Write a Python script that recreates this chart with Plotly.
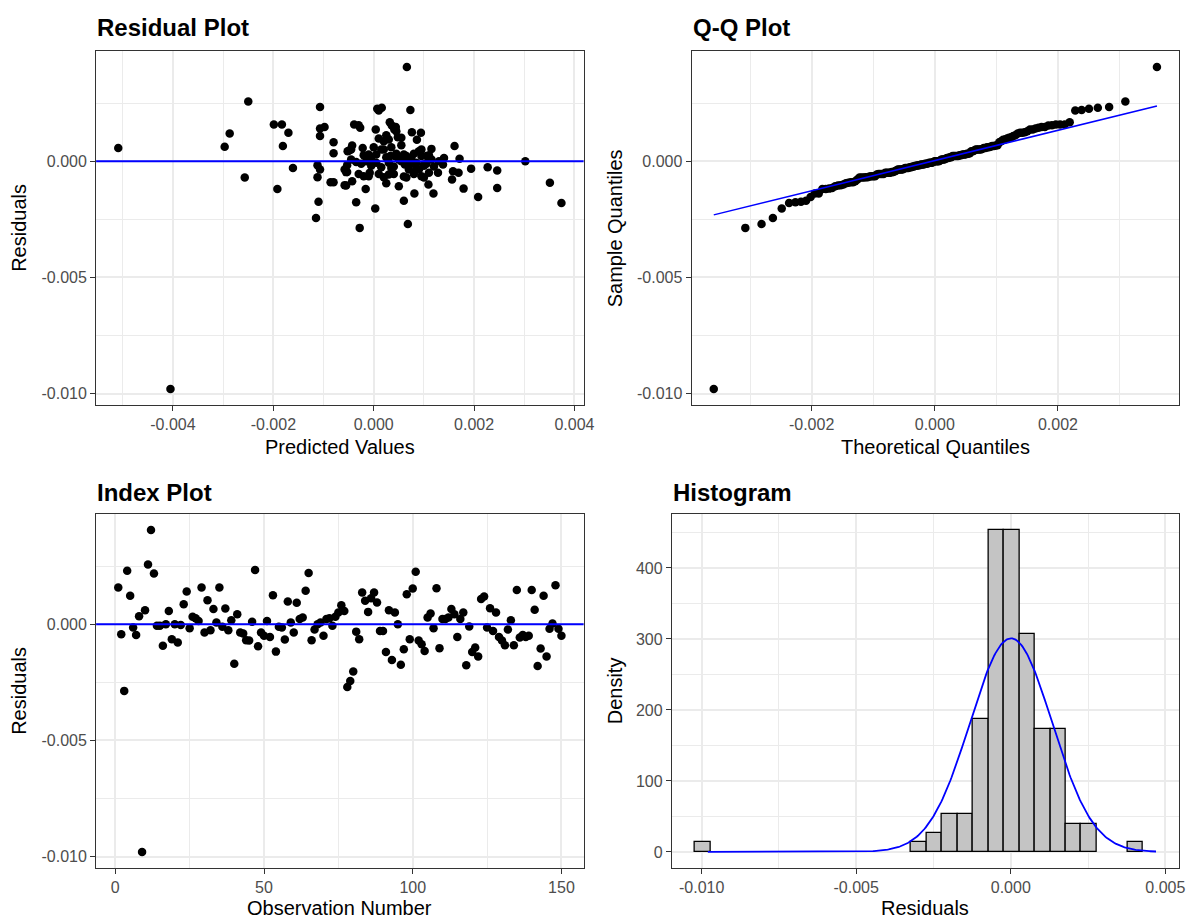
import numpy as np
import plotly.graph_objects as go
from statistics import NormalDist

# ---------------- data ----------------
residuals = [
    0.00158, -0.00043, -0.00287, 0.00230, 0.00122, -0.00014, -0.00046, 0.00034, -0.00980, 0.00060,
    0.00257, 0.00405, 0.00218, -0.00007, -0.00007, -0.00093, 0.00000, 0.00057, -0.00065, 0.00000,
    -0.00079, -0.00003, 0.00086, 0.00141, -0.00017, 0.00032, 0.00026, 0.00014, 0.00158, -0.00036,
    0.00103, -0.00026, 0.00065, 0.00007, 0.00158, -0.00011, 0.00068, -0.00026, 0.00017, -0.00170,
    0.00043, -0.00036, -0.00040, -0.00069, -0.00070, 0.00011, 0.00233, -0.00095, -0.00036, -0.00050,
    0.00014, -0.00055, 0.00125, -0.00118, -0.00011, -0.00014, -0.00066, 0.00098, 0.00007, -0.00036,
    0.00092, 0.00022, 0.00029, 0.00144, 0.00220, -0.00069, -0.00023, 0.00000, 0.00007, -0.00050,
    0.00022, 0.00026, -0.00007, 0.00032, 0.00050, 0.00082, 0.00057, -0.00270, -0.00244, -0.00204,
    -0.00032, -0.00065, 0.00136, 0.00101, 0.00053, 0.00112, 0.00136, 0.00093, -0.00029, -0.00029,
    -0.00120, 0.00060, -0.00154, 0.00050, 0.00000, -0.00175, -0.00108, 0.00129, -0.00065, 0.00154,
    0.00226, -0.00070, -0.00086, -0.00115, 0.00029, 0.00046, -0.00017, 0.00155, -0.00103, 0.00022,
    0.00022, 0.00029, 0.00065, 0.00043, -0.00055, 0.00022, 0.00050, -0.00177, -0.00010, -0.00120,
    -0.00100, -0.00139, 0.00108, 0.00119, -0.00014, 0.00069, -0.00029, 0.00050, -0.00055, -0.00070,
    -0.00091, -0.00023, 0.00017, -0.00091, 0.00147, -0.00057, -0.00047, -0.00055, -0.00050, 0.00147,
    0.00062, -0.00180, -0.00105, 0.00122, -0.00139, -0.00020, 0.00003, 0.00168, -0.00020, -0.00050,
]

predicted = [
    -0.00199, 0.00158, -0.00028, 0.00016, -0.00170, 0.00062, -0.00053, -0.00080, -0.00405, 0.00035,
    -0.00250, 0.00066, 0.00010, 0.00030, 0.00085, 0.00351, 0.00302, -0.00509, -0.00010, 0.00055,
    0.00156, -0.00035, 0.00020, -0.00107, -0.00112, 0.00045, -0.00020, 0.00140, -0.00183, 0.00090,
    0.00048, 0.00227, 0.00161, 0.00115, -0.00039, 0.00105, -0.00043, 0.00015, -0.00005, 0.00060,
    -0.00052, -0.00107, 0.00246, -0.00112, -0.00257, 0.00171, -0.00107, 0.00025, 0.00070, 0.00169,
    0.00075, 0.00040, 0.00076, 0.00179, -0.00025, 0.00100, 0.00060, 0.00010, -0.00045, -0.00058,
    0.00086, 0.00095, 0.00005, -0.00027, 0.00073, 0.00020, 0.00120, -0.00015, 0.00050, 0.00128,
    0.00065, 0.00110, 0.00005, 0.00080, -0.00045, -0.00080, -0.00022, 0.00068, -0.00115, 0.00003,
    0.00194, 0.00095, 0.00004, 0.00055, 0.00115, 0.00025, 0.00041, 0.00030, -0.00161, 0.00035,
    -0.00192, 0.00000, 0.00208, 0.00015, 0.00130, -0.00110, 0.00050, 0.00045, -0.00020, 0.00036,
    0.00007, 0.00100, -0.00043, 0.00246, 0.00060, -0.00049, -0.00053, -0.00030, -0.00058, 0.00033,
    0.00105, -0.00010, -0.00181, 0.00090, 0.00010, 0.00042, 0.00020, -0.00035, 0.00075, -0.00016,
    0.00109, 0.00081, -0.00107, -0.00287, 0.00138, 0.00055, 0.00085, 0.00095, -0.00030, 0.00065,
    -0.00086, 0.00040, 0.00025, -0.00080, -0.00098, 0.00030, -0.00055, 0.00080, 0.00110, 0.00044,
    -0.00297, 0.00374, -0.00055, 0.00094, 0.00119, -0.00005, 0.00070, 0.00032, 0.00100, -0.00008,
]

observation = list(range(1, len(residuals) + 1))

# tick values / labels
resid_yticks = [-0.010, -0.005, 0.000]
resid_yminor = [-0.0075, -0.0025, 0.0025]
pred_xticks = [-0.004, -0.002, 0.000, 0.002, 0.004]
pred_xminor = [-0.005, -0.003, -0.001, 0.001, 0.003]
qq_xticks = [-0.002, 0.000, 0.002]
qq_xminor = [-0.003, -0.001, 0.001, 0.003]
obs_xticks = [0, 50, 100, 150]
obs_xminor = [25, 75, 125]
hist_xticks = [-0.010, -0.005, 0.000, 0.005]
hist_xminor = [-0.0075, -0.0025, 0.0025]
hist_yticks = [0, 100, 200, 300, 400]
hist_yminor = [50, 150, 250, 350, 450]

# histogram binning and density-curve extent
BIN_START, BIN_END, BIN_WIDTH = -0.01022, 0.00428, 0.0005
CURVE_END = 0.0047

# ---------------- derived statistics ----------------
res = np.array(residuals)
pred = np.array(predicted)
n = len(res)
mu = res.mean()
sd = res.std(ddof=1)
nd = NormalDist(mu, sd)
sample_q = np.sort(res)
theo_q = np.array([nd.inv_cdf((i - 0.5) / n) for i in range(1, n + 1)])
q1, q3 = np.quantile(res, [0.25, 0.75])
t1, t3 = nd.inv_cdf(0.25), nd.inv_cdf(0.75)
slope = (q3 - q1) / (t3 - t1)
intercept = q1 - slope * t1
qq_line_x = np.array([theo_q.min(), theo_q.max()])
qq_line_y = intercept + slope * qq_line_x

curve_x = np.linspace(res.min(), CURVE_END, 400)
curve_y = np.exp(-((curve_x - mu) ** 2) / (2 * sd ** 2)) / (sd * np.sqrt(2 * np.pi))

edges = np.arange(BIN_START, BIN_END + BIN_WIDTH / 2, BIN_WIDTH)
counts, _ = np.histogram(res, bins=edges)
dens_max = counts.max() / (n * BIN_WIDTH)


def expand(lo, hi, f=0.05):
    d = (hi - lo) * f
    return [lo - d, hi + d]


# ---------------- style ----------------
FONT = "Liberation Sans, Arial, Helvetica, sans-serif"
W, H = 1200, 918
GRID = "#EBEBEB"
BORDER = "#333333"
TICKCOL = "#4D4D4D"

L_X = [97 / W, 589 / W]
QQ_X = [698 / W, 1190 / W]
HI_X = [678 / W, 1190 / W]
TOP_Y = [1 - 405 / H, 1 - 51 / H]
BOT_Y = [1 - 868 / H, 1 - 514 / H]


def fmt3(v):
    return f"{v:.3f}"


def axis(domain, anchor, rng, ticks, minor, labels):
    return dict(
        domain=domain, anchor=anchor, range=rng,
        tickmode="array", tickvals=ticks, ticktext=labels,
        showgrid=True, gridcolor=GRID, gridwidth=1.5,
        minor=dict(tickvals=minor, showgrid=True, gridcolor=GRID, gridwidth=0.8, ticks=""),
        zeroline=False,
        showline=True, mirror=True, linecolor=BORDER, linewidth=1,
        ticks="outside", ticklen=5, tickwidth=1, tickcolor=BORDER,
        tickfont=dict(family=FONT, size=16, color=TICKCOL),
        layer="below traces",
    )


fig = go.Figure()

# Residual plot
fig.add_trace(go.Scatter(x=pred, y=res, mode="markers",
                         marker=dict(color="black", size=8.5), xaxis="x", yaxis="y"))
# Q-Q plot
fig.add_trace(go.Scatter(x=theo_q, y=sample_q, mode="markers",
                         marker=dict(color="black", size=8.5), xaxis="x2", yaxis="y2"))
fig.add_trace(go.Scatter(x=qq_line_x, y=qq_line_y, mode="lines",
                         line=dict(color="blue", width=1.5), xaxis="x2", yaxis="y2"))
# Index plot
fig.add_trace(go.Scatter(x=observation, y=res, mode="markers",
                         marker=dict(color="black", size=8.5), xaxis="x3", yaxis="y3"))
# Histogram
fig.add_trace(go.Histogram(x=res, histnorm="probability density",
                           xbins=dict(start=BIN_START, end=BIN_END, size=BIN_WIDTH),
                           marker=dict(color="#C4C4C4", line=dict(color="black", width=1.3)),
                           xaxis="x4", yaxis="y4"))
fig.add_trace(go.Scatter(x=curve_x, y=curve_y, mode="lines",
                         line=dict(color="blue", width=1.8), xaxis="x4", yaxis="y4"))

# horizontal reference lines at zero
for xr, yr in (("x", "y"), ("x3", "y3")):
    fig.add_shape(type="line", xref=f"{xr} domain", x0=0, x1=1, yref=yr, y0=0, y1=0,
                  line=dict(color="blue", width=2), layer="above")

yr_res = expand(res.min(), res.max())
fig.update_layout(
    width=W, height=H,
    margin=dict(l=0, r=0, t=0, b=0),
    paper_bgcolor="white", plot_bgcolor="white",
    showlegend=False, bargap=0,
    xaxis=axis(L_X, "y", expand(pred.min(), pred.max()), pred_xticks, pred_xminor,
               [fmt3(v) for v in pred_xticks]),
    yaxis=axis(TOP_Y, "x", yr_res, resid_yticks, resid_yminor, [fmt3(v) for v in resid_yticks]),
    xaxis2=axis(QQ_X, "y2", expand(theo_q.min(), theo_q.max()), qq_xticks, qq_xminor,
                [fmt3(v) for v in qq_xticks]),
    yaxis2=axis(TOP_Y, "x2", yr_res, resid_yticks, resid_yminor, [fmt3(v) for v in resid_yticks]),
    xaxis3=axis(L_X, "y3", expand(min(observation), max(observation)), obs_xticks, obs_xminor,
                [str(v) for v in obs_xticks]),
    yaxis3=axis(BOT_Y, "x3", yr_res, resid_yticks, resid_yminor, [fmt3(v) for v in resid_yticks]),
    xaxis4=axis(HI_X, "y4", expand(BIN_START, max(CURVE_END, BIN_END)), hist_xticks, hist_xminor,
                [fmt3(v) for v in hist_xticks]),
    yaxis4=axis(BOT_Y, "x4", expand(0, dens_max), hist_yticks, hist_yminor,
                [str(v) for v in hist_yticks]),
)

ann = []


def title(text, xpx, ypx):
    ann.append(dict(text=f"<b>{text}</b>", x=xpx / W, y=1 - ypx / H, xref="paper", yref="paper",
                    xanchor="left", yanchor="middle", showarrow=False,
                    font=dict(family=FONT, size=24, color="black")))


def axtitle(text, xpx, ypx, angle=0):
    ann.append(dict(text=text, x=xpx / W, y=1 - ypx / H, xref="paper", yref="paper",
                    xanchor="center", yanchor="middle", showarrow=False, textangle=angle,
                    font=dict(family=FONT, size=20, color="black")))


title("Residual Plot", 96, 27)
title("Q-Q Plot", 697, 27)
title("Index Plot", 96, 492)
title("Histogram", 677, 492)

axtitle("Predicted Values", (97 + 589) / 2, 447)
axtitle("Theoretical Quantiles", (698 + 1190) / 2, 447)
axtitle("Observation Number", (97 + 589) / 2, 908)
axtitle("Residuals", (678 + 1190) / 2, 908)
axtitle("Residuals", 19, (51 + 405) / 2, -90)
axtitle("Sample Quantiles", 621, (51 + 405) / 2, -90)
axtitle("Residuals", 19, (514 + 868) / 2, -90)
axtitle("Density", 621, (514 + 868) / 2, -90)

fig.update_layout(annotations=ann)
fig.write_html("out.html")
